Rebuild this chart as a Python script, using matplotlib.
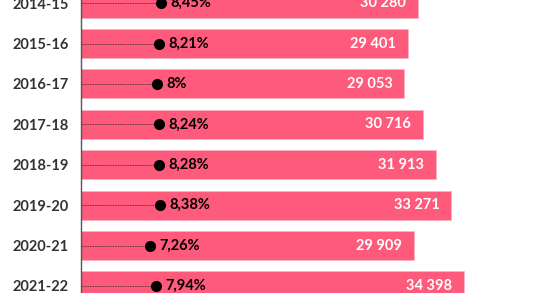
import matplotlib
matplotlib.use("Agg")
from matplotlib import pyplot as plt

# data
years = ['2014-15', '2015-16', '2016-17', '2017-18', '2018-19', '2019-20', '2020-21', '2021-22']
totals = [30280, 29401, 29053, 30716, 31913, 33271, 29909, 34398]
shares = [8.45, 8.21, 8.0, 8.24, 8.28, 8.38, 7.26, 7.94]


def fmt_total(v):
    return '{:,}'.format(v).replace(',', ' ')


def fmt_share(v):
    s = ('%.2f' % v).rstrip('0').rstrip('.')
    return s.replace('.', ',') + '%'


plt.rcParams['font.family'] = ['Lato', 'DejaVu Sans']

fig = plt.figure(figsize=(5.6, 2.93), dpi=100)
ax = fig.add_axes([81 / 560, 0, 1 - 81 / 560, 1])

bar_color = '#fe5a7b'
pos = list(range(len(years)))
ax.barh(pos, totals, height=0.72, color=bar_color, edgecolor='#ffb3c2', linewidth=0.6)

# bar scale: 383 px for 34398
px_per_unit = 383 / 34398
ax.set_xlim(0, (560 - 81) / px_per_unit)
ax.set_ylim((293 - 3.1) / 40.4, -3.1 / 40.4)

for i, v in enumerate(totals):
    ax.text(v - 12 / px_per_unit, i, fmt_total(v), ha='right', va='center',
            color='white', fontsize=10.5, fontweight='bold')

# dot scale on a second x axis
ax2 = ax.twiny()
ax2.set_xlim(0, (560 - 81) / 9.45)
ax2.set_ylim(ax.get_ylim())
for i, s in enumerate(shares):
    ax2.plot([0, s], [i, i], color='#222222', linestyle=(0, (1, 1)), linewidth=0.6)
    ax2.plot(s, i, 'o', color='black', markersize=7)
    ax2.text(s + 1.0, i, fmt_share(s), ha='left', va='center',
             color='black', fontsize=10.5, fontweight='bold')

for a in (ax, ax2):
    for sp in a.spines.values():
        sp.set_visible(False)
    a.set_xticks([])
ax2.set_yticks([])
ax.spines['left'].set_visible(True)
ax.spines['left'].set_color('#555555')
ax.spines['left'].set_linewidth(1)
ax.set_yticks(pos)
ax.set_yticklabels(years, fontsize=10.5, fontweight='bold', color='#333333')
ax.tick_params(axis='y', length=0, pad=9)

fig.savefig('out.png', dpi=100)
